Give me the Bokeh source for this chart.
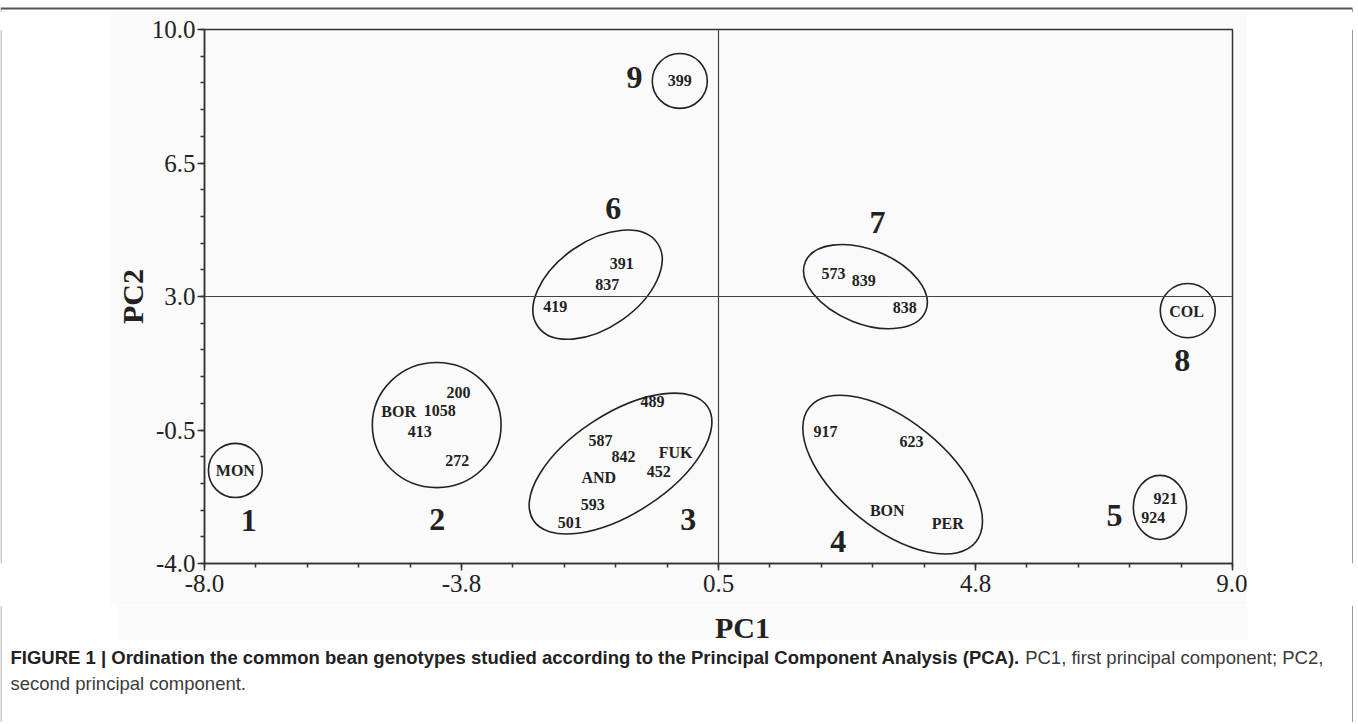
import numpy as np
from bokeh.plotting import figure
from bokeh.layouts import column, row
from bokeh.models import (ColumnDataSource, Range1d, FixedTicker, Span, CustomJSTickFormatter)
from bokeh.core.properties import value
from bokeh.embed import file_html
from bokeh.resources import INLINE

# ---------------- data ----------------
geno_labels = ["MON", "200", "BOR", "1058", "413", "272",
               "489", "587", "842", "FUK", "452", "AND", "593", "501",
               "917", "623", "BON", "PER",
               "921", "924",
               "391", "837", "419",
               "573", "839", "838",
               "COL", "399"]
geno_pc1 = [-7.49, -3.80, -4.79, -4.11, -4.44, -3.82,
            -0.59, -1.45, -1.07, -0.21, -0.49, -1.48, -1.58, -1.96,
            2.27, 3.69, 3.29, 4.29,
            7.89, 7.69,
            -1.10, -1.34, -2.20,
            2.40, 2.90, 3.58,
            8.24, -0.14]
geno_pc2 = [-1.56, 0.48, -0.02, 0.01, -0.54, -1.30,
            0.25, -0.78, -1.20, -1.09, -1.59, -1.75, -2.45, -2.93,
            -0.54, -0.80, -2.61, -2.95,
            -2.30, -2.79,
            3.86, 3.31, 2.74,
            3.60, 3.42, 2.71,
            2.61, 8.65]

group_ids = ["1", "2", "3", "4", "5", "6", "7", "8", "9"]
group_pc1 = [-7.49, -4.16, -1.12, 3.38, 7.80, -1.50, 2.93, 8.26, -0.14]
group_pc2 = [-1.56, -0.37, -1.38, -1.67, -2.53, 3.31, 3.26, 2.63, 8.65]
group_w = [0.89, 2.13, 3.44, 3.54, 0.88, 2.41, 2.15, 0.91, 0.91]
group_h = [1.42, 3.28, 2.62, 2.83, 1.68, 2.25, 1.94, 1.42, 1.44]
group_angle = [0, 0, 33, -39, 0, 35, -22, 0, 0]

num_pc1 = [-7.27, -4.15, 0.00, 2.48, 7.05, -1.24, 3.13, 8.17, -0.89]
num_pc2 = [-2.87, -2.85, -2.85, -3.42, -2.74, 5.31, 4.94, 1.32, 8.74]

x_major = [-8.0, -3.75, 0.5, 4.75, 9.0]
x_tick_labels = ["-8.0", "-3.8", "0.5", "4.8", "9.0"]
y_major = [-4.0, -0.5, 3.0, 6.5, 10.0]
y_tick_labels = ["-4.0", "-0.5", "3.0", "6.5", "10.0"]

x_title = "PC1"
y_title = "PC2"
caption_bold = ("FIGURE 1 | Ordination the common bean genotypes studied according "
                "to the Principal Component Analysis (PCA).")
caption_reg1 = "PC1, first principal component; PC2,"
caption_reg2 = "second principal component."

# ---------------- page geometry (px) ----------------
PAGE_W, PAGE_H = 1355, 722
PANEL_L, PANEL_R, PANEL_T, PANEL_B = 117, 1247, 23, 639      # light grey panel
FRAME_L, FRAME_R, FRAME_T, FRAME_B = 204, 1232, 29, 563      # plot frame
SPLIT_X = 110          # left strip | chart figure
SPLIT_TOP = 12         # top strip | chart figure
SPLIT_Y = 605          # chart figure | bottom strip
BORDER_R = 1352
PANEL_COL = "#fafafa"
INK = "#222222"
SERIF = "Liberation Serif"
SANS = "Liberation Sans"


def strip(x0, x1, y0, y1):
    f = figure(width=x1 - x0, height=y1 - y0, x_range=Range1d(x0, x1), y_range=Range1d(y1, y0),
               output_backend="svg", toolbar_location=None, title=None,
               x_axis_location=None, y_axis_location=None, min_border=0,
               background_fill_color="white", border_fill_color="white",
               outline_line_color=None)
    f.xgrid.visible = False
    f.ygrid.visible = False
    return f


# ---------------- top strip ----------------
top = strip(0, PAGE_W, 0, SPLIT_TOP)
top.segment(x0=[0], y0=[8], x1=[BORDER_R], y1=[8], line_color="#555555", line_width=2)
top.segment(x0=[0.5, BORDER_R], y0=[8, 8], x1=[0.5, BORDER_R], y1=[SPLIT_TOP, SPLIT_TOP],
            line_color="#999999", line_width=1)

# ---------------- left strip ----------------
left = strip(0, SPLIT_X, SPLIT_TOP, SPLIT_Y)
left.segment(x0=[0.5], y0=[SPLIT_TOP], x1=[0.5], y1=[SPLIT_Y], line_color="#999999", line_width=1)

# ---------------- right strip ----------------
right = strip(PANEL_R, PAGE_W, SPLIT_TOP, SPLIT_Y)
right.segment(x0=[BORDER_R], y0=[SPLIT_TOP], x1=[BORDER_R], y1=[SPLIT_Y],
              line_color="#999999", line_width=1)

# ---------------- chart ----------------
cw, ch = PANEL_R - SPLIT_X, SPLIT_Y - SPLIT_TOP
p = figure(width=cw, height=ch, x_range=Range1d(-8, 9), y_range=Range1d(-4, 10),
           output_backend="svg", toolbar_location=None, title=None,
           min_border_left=FRAME_L - SPLIT_X, min_border_right=PANEL_R - FRAME_R,
           min_border_top=FRAME_T - SPLIT_TOP, min_border_bottom=SPLIT_Y - FRAME_B,
           background_fill_color=PANEL_COL, border_fill_color=PANEL_COL)
p.grid.visible = False
p.outline_line_color = "#333333"
p.outline_line_width = 1.5

for ax in (p.xaxis[0], p.yaxis[0]):
    ax.axis_line_color = "#333333"
    ax.axis_line_width = 1.5
    ax.major_tick_line_color = "#333333"
    ax.major_tick_line_width = 1.5
    ax.major_tick_in = 0
    ax.major_tick_out = 7
    ax.minor_tick_line_color = "#333333"
    ax.minor_tick_line_width = 1.5
    ax.minor_tick_in = 0
    ax.minor_tick_out = 4
    ax.major_label_text_font = SERIF
    ax.major_label_text_font_size = "25px"
    ax.major_label_text_color = INK

p.xaxis.ticker = FixedTicker(ticks=x_major, minor_ticks=list(np.linspace(-8, 9, 21)))
p.yaxis.ticker = FixedTicker(ticks=y_major, minor_ticks=list(np.linspace(-4, 10, 21)))
fmt_code = ("let best = -1; let d = 1e9;"
            "for (let i = 0; i < tvals.length; i++) {"
            "  const e = Math.abs(tvals[i] - tick); if (e < d) { d = e; best = i; } }"
            "return d < 1e-6 ? tlabels[best] : '';")
p.xaxis.formatter = CustomJSTickFormatter(args=dict(tvals=x_major, tlabels=x_tick_labels), code=fmt_code)
p.yaxis.formatter = CustomJSTickFormatter(args=dict(tvals=y_major, tlabels=y_tick_labels), code=fmt_code)
p.xaxis.major_label_standoff = 4
p.yaxis.major_label_standoff = 2

p.yaxis.axis_label = y_title
p.yaxis.axis_label_standoff = 0
p.yaxis.axis_label_text_font = SERIF
p.yaxis.axis_label_text_font_style = "bold"
p.yaxis.axis_label_text_font_size = "30px"
p.yaxis.axis_label_text_color = INK

p.add_layout(Span(location=0.5, dimension="height", line_color="#444444", line_width=1.2))
p.add_layout(Span(location=3.0, dimension="width", line_color="#444444", line_width=1.2))

gsrc = ColumnDataSource(dict(x=group_pc1, y=group_pc2, w=group_w, h=group_h, a=group_angle))
p.ellipse(x="x", y="y", width="w", height="h", angle="a", angle_units="deg", source=gsrc,
          fill_color=None, line_color=INK, line_width=1.6)

lsrc = ColumnDataSource(dict(x=geno_pc1, y=geno_pc2, t=geno_labels))
p.text(x="x", y="y", text="t", source=lsrc, text_font=value(SERIF), text_font_style="bold",
       text_font_size="16px", text_align="center", text_baseline="middle", text_color=INK)

nsrc = ColumnDataSource(dict(x=num_pc1, y=num_pc2, t=group_ids))
p.text(x="x", y="y", text="t", source=nsrc, text_font=value(SERIF), text_font_style="bold",
       text_font_size="32px", text_align="center", text_baseline="middle", text_color=INK)

# ---------------- bottom strip (PC1 title + caption) ----------------
bot = strip(0, PAGE_W, SPLIT_Y, PAGE_H)
bot.quad(left=[PANEL_L], right=[PANEL_R], top=[SPLIT_Y], bottom=[PANEL_B],
         fill_color=PANEL_COL, line_color=None)
bot.segment(x0=[0.5, BORDER_R], y0=[SPLIT_Y, SPLIT_Y], x1=[0.5, BORDER_R], y1=[PAGE_H, PAGE_H],
            line_color="#999999", line_width=1)
bot.text(x=[742], y=[627], text=[x_title], text_font=value(SERIF), text_font_style="bold",
         text_font_size="30px", text_align="center", text_baseline="middle", text_color=INK)

ARIAL_BOLD = {' ': 278, '|': 280, '.': 278, '(': 333, ')': 333, ',': 278, ';': 333,
              '1': 556, '2': 556, 'A': 722, 'C': 722, 'E': 667, 'F': 611, 'G': 778,
              'I': 278, 'O': 778, 'P': 667, 'R': 722, 'U': 722,
              'a': 556, 'b': 611, 'c': 556, 'd': 611, 'e': 556, 'f': 333, 'g': 611,
              'h': 611, 'i': 278, 'l': 278, 'm': 889, 'n': 611, 'o': 611, 'p': 611,
              'r': 389, 's': 556, 't': 333, 'u': 611, 'y': 556}
CAP_SIZE = 18.5


def text_w(s, table, size):
    return sum(table.get(ch, 600) for ch in s) / 1000.0 * size


cap_x, cap_y1, cap_y2 = 10, 657, 683
bw = text_w(caption_bold, ARIAL_BOLD, CAP_SIZE) + 0.278 * CAP_SIZE
bot.text(x=[cap_x], y=[cap_y1], text=[caption_bold], text_font=value(SANS), text_font_style="bold",
         text_font_size=f"{CAP_SIZE}px", text_align="left", text_baseline="middle", text_color=INK)
bot.text(x=[cap_x + bw], y=[cap_y1], text=[caption_reg1], text_font=value(SANS),
         text_font_size=f"{CAP_SIZE}px", text_align="left", text_baseline="middle", text_color="#3a3a3a")
bot.text(x=[cap_x], y=[cap_y2], text=[caption_reg2], text_font=value(SANS),
         text_font_size=f"{CAP_SIZE}px", text_align="left", text_baseline="middle", text_color="#3a3a3a")

layout = column(top, row(left, p, right), bot)
open("out.html", "w").write(file_html(layout, INLINE))
